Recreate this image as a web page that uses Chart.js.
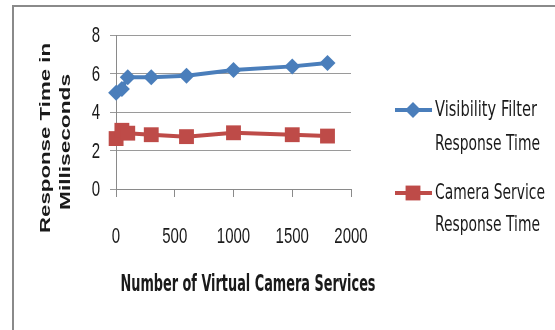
<!DOCTYPE html>
<html>
<head>
<meta charset="utf-8">
<script src="https://cdn.jsdelivr.net/npm/chart.js@4.4.1/dist/chart.umd.min.js"></script>
<style>
  html, body { margin: 0; padding: 0; background: #fff; }
  #wrap { position: relative; width: 555px; height: 330px; overflow: hidden; }
  #frame { position: absolute; left: 12px; top: 5px; width: 600px; height: 400px;
           border-left: 2px solid #8a8a8a; border-top: 2px solid #8a8a8a; }
  canvas { position: absolute; left: 0; top: 0; }
</style>
</head>
<body>
<div id="wrap">
  <div id="frame"></div>
  <canvas id="responseChart" width="555" height="330"></canvas>
</div>
<script>
// values
var services = [1, 50, 100, 300, 600, 1000, 1500, 1800];
var visibilityFilter = [5.0, 5.2, 5.8, 5.8, 5.88, 6.18, 6.37, 6.55];
var cameraService = [2.62, 3.05, 2.9, 2.82, 2.72, 2.92, 2.82, 2.75];
var seriesNames = [['Visibility Filter', 'Response Time'], ['Camera Service', 'Response Time']];
var xTitle = 'Number of Virtual Camera Services';
var yTitle = ['Response Time in', 'Milliseconds'];

var blue = '#4a7ebb';
var red = '#be4b48';
var narrow = "'Liberation Sans Narrow', 'DejaVu Sans Condensed', sans-serif";
var tickFont = '15px "Liberation Sans", Arial, sans-serif';

function toPoints(ys) {
    return services.map(function (x, i) { return { x: x, y: ys[i] }; });
}

// draw a text squeezed to a given width (the original image is stretched)
function fitText(ctx, txt, cx, cy, font, width, sy, rot) {
    ctx.save();
    ctx.translate(cx, cy);
    if (rot) ctx.rotate(rot);
    ctx.font = font;
    var w = ctx.measureText(txt).width;
    ctx.scale(width / w, sy);
    ctx.textAlign = 'center';
    ctx.textBaseline = 'middle';
    ctx.fillStyle = '#1a1a1a';
    ctx.fillText(txt, 0, 0);
    ctx.restore();
}

// tall tick text, same stretch as the picture
function tallText(ctx, txt, x, y, align, sy) {
    ctx.save();
    ctx.translate(x, y);
    ctx.scale(1, sy);
    ctx.font = tickFont;
    ctx.textAlign = align;
    ctx.textBaseline = 'middle';
    ctx.fillStyle = '#1a1a1a';
    ctx.fillText(txt, 0, 0);
    ctx.restore();
}

var extras = {
    id: 'extras',
    afterDraw: function (chart) {
        var ctx = chart.ctx;
        var xs = chart.scales.x, ys = chart.scales.y;

        // tick labels, placed by the scales
        xs.ticks.forEach(function (t) {
            tallText(ctx, String(t.value), xs.getPixelForValue(t.value), 237, 'center', 1.5);
        });
        ys.ticks.forEach(function (t) {
            tallText(ctx, String(t.value), 100, ys.getPixelForValue(t.value) + 1, 'right', 1.45);
        });

        // axis titles
        fitText(ctx, xTitle, 248, 285, 'bold 17px ' + narrow, 255, 1.37);
        fitText(ctx, yTitle[0], 46, 138, 'bold 15px "Liberation Sans", Arial, sans-serif', 190, 1, -Math.PI / 2);
        fitText(ctx, yTitle[1], 66, 142, 'bold 15px "Liberation Sans", Arial, sans-serif', 136, 1, -Math.PI / 2);

        // legend
        var rows = [
            { y: 110, ds: chart.data.datasets[0], widths: [102, 105], gap: 34 },
            { y: 193, ds: chart.data.datasets[1], widths: [110, 105], gap: 32 }
        ];
        rows.forEach(function (r, i) {
            ctx.save();
            ctx.strokeStyle = r.ds.borderColor;
            ctx.lineWidth = 4;
            ctx.beginPath();
            ctx.moveTo(395, r.y);
            ctx.lineTo(432, r.y);
            ctx.stroke();
            ctx.fillStyle = r.ds.backgroundColor;
            Chart.helpers.drawPoint(ctx, {
                pointStyle: r.ds.pointStyle,
                radius: r.ds.pointRadius,
                borderWidth: 0
            }, 413, r.y);
            ctx.restore();
            fitText(ctx, seriesNames[i][0], 435 + r.widths[0] / 2, r.y + 1, '16px ' + narrow, r.widths[0], 1.3);
            fitText(ctx, seriesNames[i][1], 435 + r.widths[1] / 2, r.y + 1 + r.gap, '16px ' + narrow, r.widths[1], 1.3);
        });
    }
};

var responseChartCanvas = document.getElementById('responseChart');
var responseChart = new Chart(responseChartCanvas, {
    type: 'line',
    data: {
        datasets: [
            {
                label: 'Visibility Filter Response Time',
                data: toPoints(visibilityFilter),
                borderColor: blue,
                backgroundColor: blue,
                borderWidth: 4,
                pointStyle: 'rectRot',
                pointRadius: 8,
                pointBorderWidth: 0,
                clip: false
            },
            {
                label: 'Camera Service Response Time',
                data: toPoints(cameraService),
                borderColor: red,
                backgroundColor: red,
                borderWidth: 4,
                pointStyle: 'rect',
                pointRadius: 10.5,
                pointBorderWidth: 0,
                clip: false
            }
        ]
    },
    options: {
        responsive: false,
        animation: false,
        layout: { padding: { left: 0, top: 35, right: 204, bottom: 0 } },
        plugins: {
            legend: { display: false },
            tooltip: { enabled: false }
        },
        scales: {
            x: {
                type: 'linear',
                min: 0,
                max: 2000,
                afterFit: function (scale) { scale.height = 141; },
                ticks: { stepSize: 500, display: false },
                grid: { drawOnChartArea: false, tickLength: 8, color: '#8a8a8a' },
                border: { color: '#8a8a8a', width: 1 }
            },
            y: {
                min: 0,
                max: 8,
                afterFit: function (scale) { scale.width = 116; },
                ticks: { stepSize: 2, display: false },
                grid: { tickLength: 6, color: '#9a9a9a' },
                border: { color: '#8a8a8a', width: 1 }
            }
        }
    },
    plugins: [extras]
});
</script>
</body>
</html>
